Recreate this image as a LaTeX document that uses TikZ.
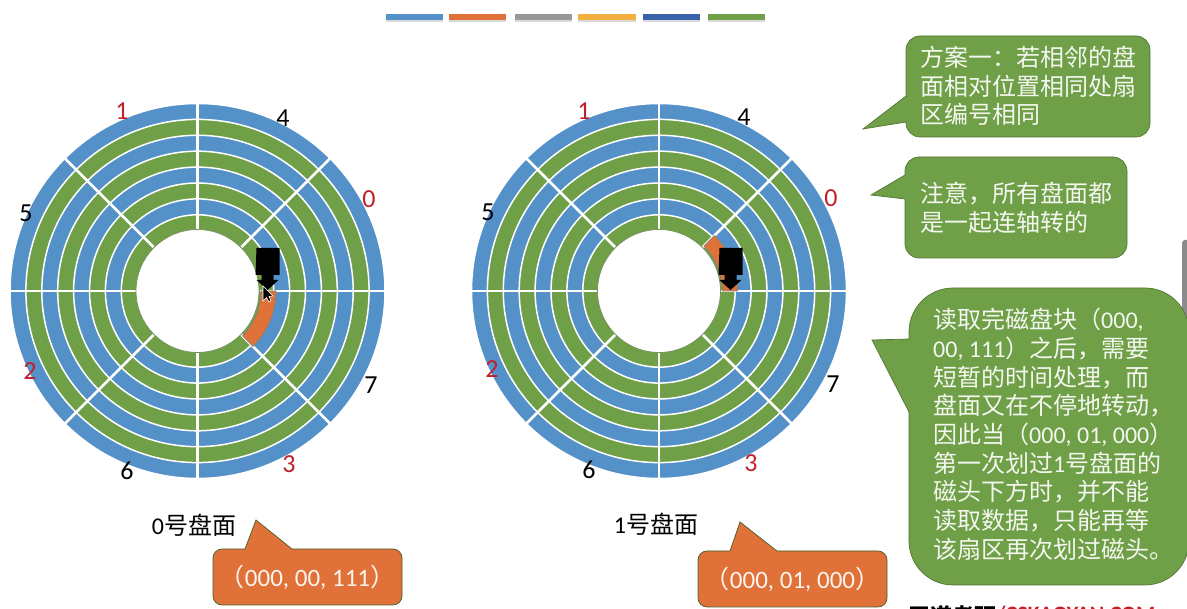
\documentclass[tikz,border=0pt]{standalone}
\usepackage{fontspec}
\setmainfont{Carlito}
\newfontfamily\cjk{Noto Sans CJK SC}
\usetikzlibrary{shadows}
\definecolor{diskblue}{HTML}{5591C9}
\definecolor{diskgreen}{HTML}{6F9F46}
\definecolor{diskorange}{HTML}{E07239}
\definecolor{diskred}{HTML}{C0202A}
\definecolor{baryellow}{HTML}{F2B040}
\definecolor{barnavy}{HTML}{3A62A8}
\tikzset{
    % Rings and sector lines of one platter
    ringline/.style={draw=white, line width=1.5pt},
    sectorline/.style={draw=white, line width=2.5pt},
    holeline/.style={fill=white, draw=diskgreen!60!gray, line width=0.8pt},
    hotsector/.style={fill=diskorange, draw=gray, line width=0.6pt},
    % Speech bubbles
    greenbubble/.style={fill=diskgreen, draw=diskgreen!75!black, line width=0.7pt},
    orangebubble/.style={fill=diskorange, draw=diskgreen!60!black, line width=0.7pt},
    bubbletext/.style={anchor=north west, align=left, inner sep=0pt, text=white!92!diskgreen,
        font=\fontsize{24}{28.7}\selectfont},
    addrtext/.style={text=white!92!diskorange, inner sep=0pt, font=\fontsize{25}{28}\selectfont},
    disklabel/.style={inner sep=0pt, font=\fontsize{24}{28}\selectfont},
    sectornum/.style={inner sep=0pt, font=\fontsize{26}{28}\selectfont},
    legendbar/.style={draw=none, drop shadow={shadow xshift=0pt, shadow yshift=-2pt, opacity=0.3}}
}

\begin{document}
\begin{tikzpicture}[x=1pt, y=1pt]
  \useasboundingbox (0,0) rectangle (1187,609);

  % Colour bars under the title
  \foreach \xa/\xb/\barcol in {386/443/diskblue, 449/506/diskorange, 515/572/gray!80,
      578/636/baryellow, 643/700/barnavy, 708/765/diskgreen}
    \fill[\barcol, legendbar] (\xa,589) rectangle (\xb,594.5);

  % Scroll bar at the right edge
  \fill[gray!90, rounded corners=3pt] (1182,280) rectangle (1192,369);

  % The two platters
  \foreach \cx in {197.5,659} {
    \begin{scope}[shift={(\cx,318)}]
      \foreach \i/\ringcol in {0/diskblue,1/diskgreen,2/diskblue,3/diskgreen,
                               4/diskblue,5/diskgreen,6/diskblue,7/diskgreen}
        \filldraw[fill=\ringcol, ringline] (0,0) circle ({187.5-15.9*\i});
      \foreach \ang in {0,45,...,315}
        \draw[sectorline] (\ang:62) -- (\ang:188.5);
      \filldraw[holeline] (0,0) circle (61.5);
    \end{scope}
  }

  % Sector being read on each platter
  \filldraw[hotsector] (197.5,318) ++(0:63.5) -- ++(0:15)
    arc[start angle=0, end angle=-45, radius=78.5] -- ++(135:15)
    arc[start angle=-45, end angle=0, radius=63.5] -- cycle;
  \filldraw[hotsector] (659,318) ++(0:63.5) -- ++(0:15)
    arc[start angle=0, end angle=45, radius=78.5] -- ++(225:15)
    arc[start angle=45, end angle=0, radius=63.5] -- cycle;

  % Sector numbers, platter 0
  \node[sectornum, text=diskred] (a0) at (369,410) {0};
  \node[sectornum, text=diskred] (a1) at (122,498) {1};
  \node[sectornum, text=diskred] (a2) at (30,238) {2};
  \node[sectornum, text=diskred] (a3) at (289,145) {3};
  \node[sectornum] (a4) at (283,491) {4};
  \node[sectornum] (a5) at (26,396) {5};
  \node[sectornum] (a6) at (127,138) {6};
  \node[sectornum] (a7) at (371,224) {7};

  % Sector numbers, platter 1
  \node[sectornum, text=diskred] (b0) at (831,411) {0};
  \node[sectornum, text=diskred] (b1) at (584,498) {1};
  \node[sectornum, text=diskred] (b2) at (492,240) {2};
  \node[sectornum, text=diskred] (b3) at (751,146) {3};
  \node[sectornum] (b4) at (744,492) {4};
  \node[sectornum] (b5) at (488,397) {5};
  \node[sectornum] (b6) at (589,139) {6};
  \node[sectornum] (b7) at (833,225) {7};

  % Read heads
  \foreach \hx/\hy in {268/361, 731/361}
    \fill[black] (\hx,\hy) ++(-11.5,0) -- ++(23,0) -- ++(0,-27) -- ++(-6,0) -- ++(0,-5)
      -- ++(5,0) -- ++(-11,-10) -- ++(-11,10) -- ++(5,0) -- ++(0,5) -- ++(-6,0) -- cycle;

  % Mouse pointer
  \filldraw[fill=black, draw=white, line width=0.6pt] (263,323) -- (263,308) -- (266.5,311.5)
    -- (269,307) -- (271,308) -- (269,312.5) -- (273,313) -- cycle;

  % Platter captions
  \node[disklabel] (cap0) at (194,84) {0{\cjk 号盘面}};
  \node[disklabel] (cap1) at (656,85) {1{\cjk 号盘面}};

  % Address bubbles
  \draw[orangebubble, rounded corners=9pt] (292,60) -- (402,60) -- (402,4) -- (213,4)
    -- (213,60) [sharp corners] -- (245,60) -- (256,89) -- cycle;
  \node[addrtext] (addr0) at (307.5,32) {{\cjk （}000, 00, 111{\cjk ）}};
  \draw[orangebubble, rounded corners=9pt] (777,58) -- (887,58) -- (887,2) -- (698,2)
    -- (698,58) [sharp corners] -- (730,58) -- (740,87) -- cycle;
  \node[addrtext] (addr1) at (792.5,30) {{\cjk （}000, 01, 000{\cjk ）}};

  % Explanation bubbles
  \draw[greenbubble, rounded corners=14pt] (906,513) -- (906,573) -- (1150,573) -- (1150,472)
    -- (906,472) [sharp corners] -- (906,487) -- (863,480) -- cycle;
  \node[bubbletext] (note1) at (920,563) {\cjk 方案一：若相邻的盘\\\cjk 面相对位置相同处扇\\\cjk 区编号相同};

  \draw[greenbubble, rounded corners=14pt] (905,434) -- (905,452) -- (1127,452) -- (1127,351)
    -- (905,351) [sharp corners] -- (905,410) -- (871,414) -- cycle;
  \node[bubbletext] (note2) at (920,427) {\cjk 注意，所有盘面都\\\cjk 是一起连轴转的};

  \draw[greenbubble, rounded corners=44pt] (909,270) -- (909,321) -- (1189,321) -- (1189,24)
    -- (909,24) [sharp corners] -- (909,197) -- (872,269) -- cycle;
  \node[bubbletext] (note3) at (933,301) {{\cjk 读取完磁盘块（}000,\\
    00, 111{\cjk ）之后，需要}\\
    \cjk 短暂的时间处理，而\\
    \cjk 盘面又在不停地转动，\\
    {\cjk 因此当（}000, 01, 000{\cjk ）}\\
    {\cjk 第一次划过}1{\cjk 号盘面的}\\
    \cjk 磁头下方时，并不能\\
    \cjk 读取数据，只能再等\\
    \cjk 该扇区再次划过磁头。};

  % Watermark, cut by the page edge
  \node[anchor=north west, inner sep=0pt, font=\bfseries\fontsize{22}{24}\selectfont] (mark) at (908,3.5)
    {{\cjk 王道考研}\raisebox{3pt}{\textcolor{diskred}{/CSKAOYAN.COM}}};
\end{tikzpicture}
\end{document}
